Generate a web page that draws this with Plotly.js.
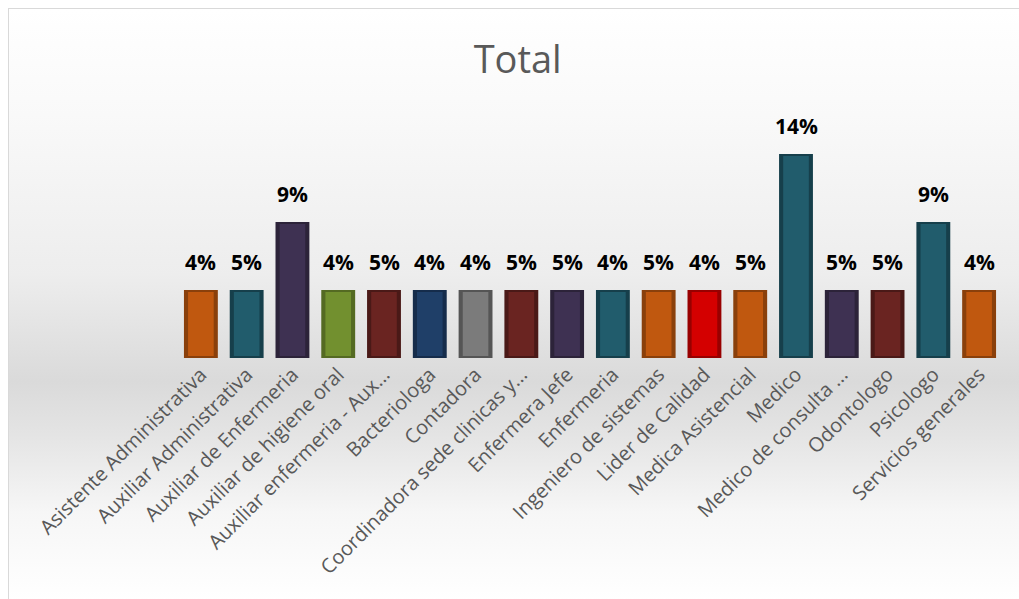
<!DOCTYPE html>
<html>
<head>
<meta charset="utf-8">
<script src="https://cdn.plot.ly/plotly-3.0.1.min.js"></script>
<style>
  html, body { margin: 0; padding: 0; background: #ffffff; }
  #frame {
    position: absolute; left: 8px; top: 8px; width: 1011px; height: 591px;
    border-left: 1px solid #d9d9d9; border-top: 1px solid #d9d9d9;
    background: linear-gradient(to bottom, #ffffff 0%, #f9f9f9 18%, #ededed 45%, #dadada 63%, #e4e4e4 72%, #f6f6f6 85%, #ffffff 100%);
  }
  #chart { position: absolute; left: 0; top: 0; width: 1019px; height: 599px; }
</style>
</head>
<body>
<div id="frame"></div>
<div id="chart"></div>
<script>
const categories = [
  "Asistente Administrativa",
  "Auxiliar Administrativa",
  "Auxiliar de Enfermeria",
  "Auxiliar de higiene oral",
  "Auxiliar enfermeria - Aux...",
  "Bacteriologa",
  "Contadora",
  "Coordinadora sede clinicas y...",
  "Enfermera Jefe",
  "Enfermeria",
  "Ingeniero de sistemas",
  "Lider de Calidad",
  "Medica Asistencial",
  "Medico",
  "Medico de consulta ...",
  "Odontologo",
  "Psicologo",
  "Servicios generales"
];
const counts = [1, 1, 2, 1, 1, 1, 1, 1, 1, 1, 1, 1, 1, 3, 1, 1, 2, 1];
const percentLabels = ["4%", "5%", "9%", "4%", "5%", "4%", "4%", "5%", "5%", "4%", "5%", "4%", "5%", "14%", "5%", "5%", "9%", "4%"];
const barColors = [
  "#c0580f", "#215c6c", "#3e3152", "#72902f", "#6a2421", "#1f3f68",
  "#7b7b7b", "#6a2421", "#3e3152", "#215c6c", "#c0580f", "#d40000",
  "#c0580f", "#215c6c", "#3e3152", "#6a2421", "#215c6c", "#c0580f"
];
const barEdges = [
  "#8a400b", "#163f4b", "#2c2339", "#546a22", "#4a1917", "#152c4b",
  "#555555", "#4a1917", "#2c2339", "#163f4b", "#8a400b", "#980000",
  "#8a400b", "#163f4b", "#2c2339", "#4a1917", "#163f4b", "#8a400b"
];

const bevelInset = 0.03;

const outer = {
  type: "bar",
  x: categories,
  y: counts,
  width: 0.74,
  marker: { color: barEdges, line: { width: 0 } },
  hoverinfo: "skip"
};

const inner = {
  type: "bar",
  x: categories,
  y: counts.map(v => v - 2 * bevelInset),
  base: counts.map(() => bevelInset),
  width: 0.56,
  marker: { color: barColors, line: { width: 0 } },
  hoverinfo: "skip"
};

const labelAnnotations = categories.map((c, i) => ({
  x: c,
  y: counts[i],
  xref: "x",
  yref: "y",
  text: percentLabels[i],
  showarrow: false,
  yanchor: "bottom",
  yshift: 12,
  font: { family: "Open Sans, sans-serif", size: 21, color: "#000000", weight: "bold" }
}));

const layout = {
  width: 1019,
  height: 599,
  paper_bgcolor: "rgba(0,0,0,0)",
  plot_bgcolor: "rgba(0,0,0,0)",
  margin: { l: 178, r: 17, t: 120, b: 241 },
  barmode: "overlay",
  showlegend: false,
  annotations: labelAnnotations,
  title: {
    text: "Total",
    x: 0.508, xanchor: "center",
    y: 0.9, yanchor: "middle",
    yref: "container",
    font: { family: "Open Sans, sans-serif", size: 38, color: "#595959" }
  },
  xaxis: {
    type: "category",
    range: [-0.5, 17.5],
    tickangle: -45,
    showgrid: false,
    zeroline: false,
    showline: false,
    ticks: "",
    tickfont: { family: "Open Sans, sans-serif", size: 20, color: "#595959" },
    automargin: false
  },
  yaxis: {
    range: [0, 3.5],
    visible: false,
    showgrid: false,
    zeroline: false
  }
};

Plotly.newPlot("chart", [outer, inner], layout, { displayModeBar: false, staticPlot: true });
</script>
</body>
</html>
